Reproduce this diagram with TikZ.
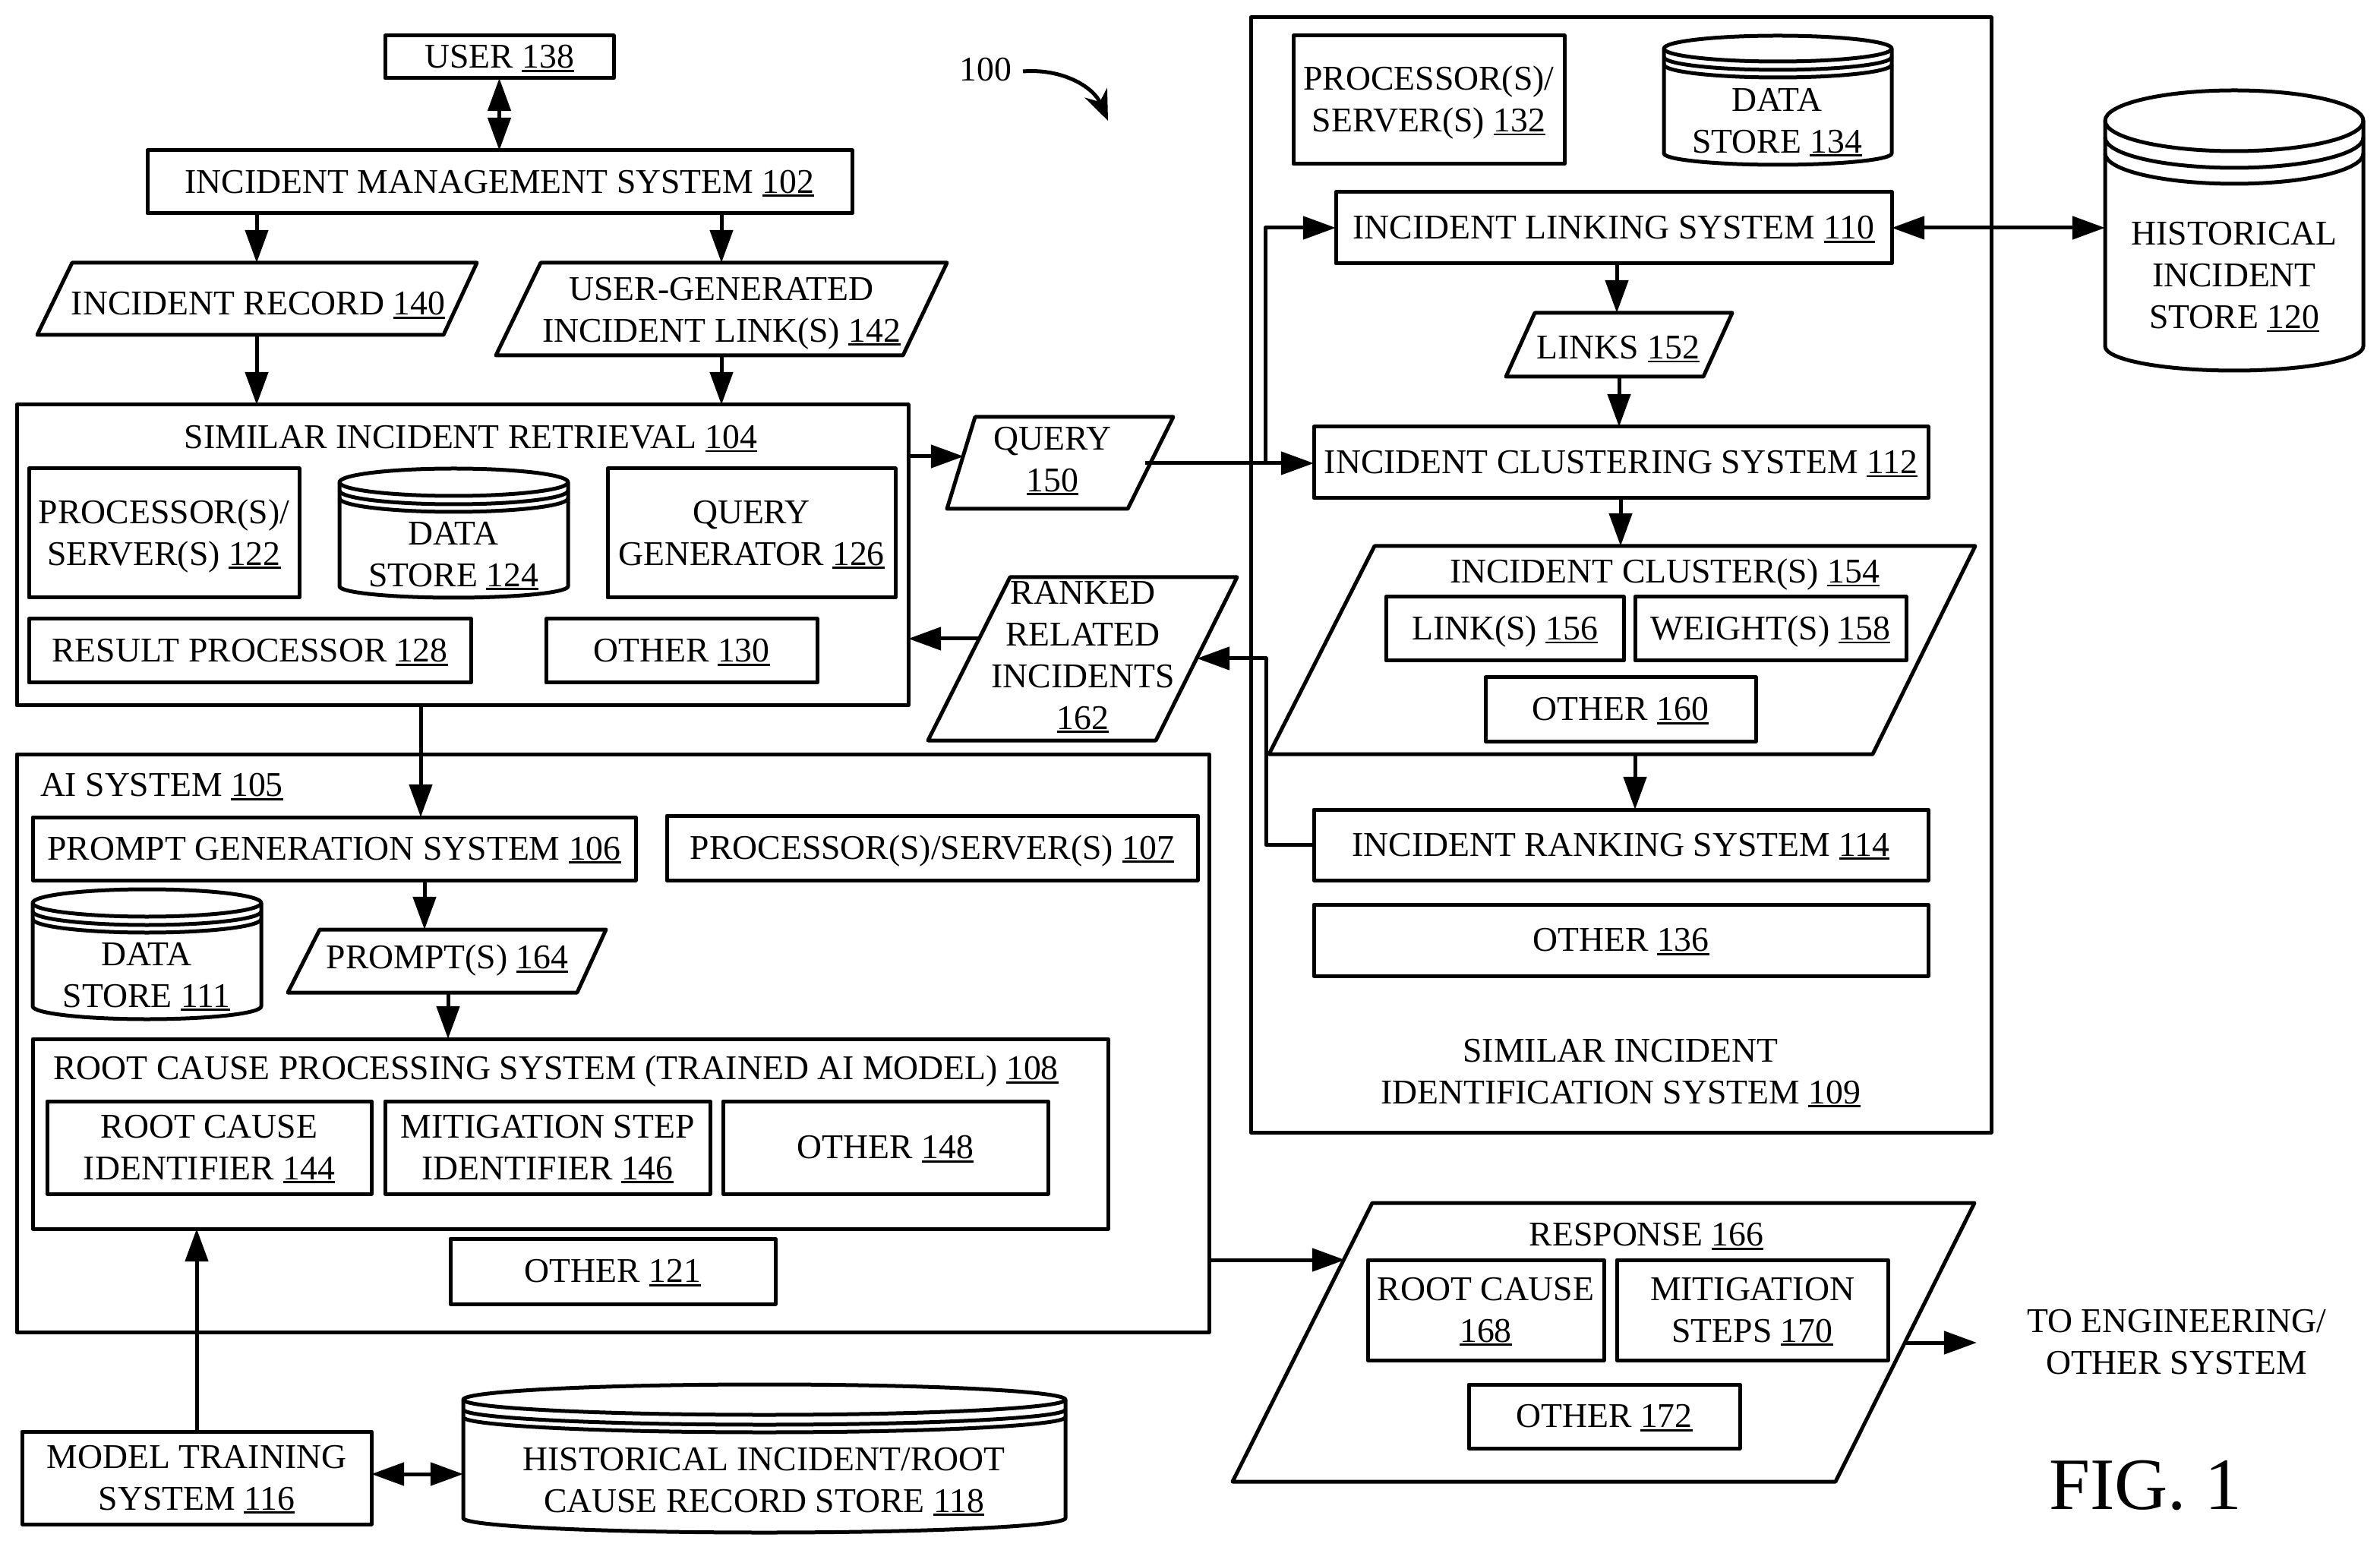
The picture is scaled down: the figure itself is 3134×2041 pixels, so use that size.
\documentclass[tikz,border=0pt]{standalone}
\usepackage{fontspec}
\setmainfont{Liberation Serif}
\usetikzlibrary{arrows.meta}
\newsavebox{\unbox}
\newcommand{\un}[1]{\sbox{\unbox}{#1}\smash{\rlap{\rule[-1.15pt]{\wd\unbox}{0.7pt}}}\usebox{\unbox}}
\newcommand{\pS}[1]{\raisebox{0pt}[0.66em][0pt]{#1}}
\tikzset{
 lbl/.style={align=center,inner sep=0pt,outer sep=0pt,font=\fontsize{11.42pt}{13.75pt}\selectfont},
 boxn/.style={lbl,draw,line width=1.25pt,line join=round},
 ghost/.style={inner sep=0pt,outer sep=0pt},
 shp/.style={draw,line width=1.25pt,line join=round},
 arr/.style={line width=1.25pt,line join=round,-{Triangle[length=10.8pt,width=7.5pt]}},
 darr/.style={line width=1.25pt,{Triangle[length=10.8pt,width=7.5pt]}-{Triangle[length=10.8pt,width=7.5pt]}},
}
\newcommand{\bx}[6]{%
 \pgfmathsetmacro\cxx{(#2+#4)/2}\pgfmathsetmacro\cyy{(#3+#5)/2}%
 \pgfmathsetmacro\wdd{(#4-#2)*0.25}\pgfmathsetmacro\htt{(#5-#3)*0.25}%
 \node[boxn,minimum width=\wdd pt,minimum height=\htt pt] (#1) at (\cxx,\cyy) {#6};}
% name, top-left x, top-right x, top y, bottom-left x, bottom-right x, bottom y
\newcommand{\pg}[7]{%
 \draw[shp] (#2,#4) -- (#3,#4) -- (#6,#7) -- (#5,#7) -- cycle;
 \pgfmathsetmacro\cxx{(#5+#3)/2}\pgfmathsetmacro\cyy{(#4+#7)/2}%
 \pgfmathsetmacro\wdd{(#3-#5)*0.25}\pgfmathsetmacro\htt{(#7-#4)*0.25}%
 \node[ghost,minimum width=\wdd pt,minimum height=\htt pt] (#1) at (\cxx,\cyy) {};}
% x1,y1,x2,y2,ry,d1,d2,ry2
\newcommand{\cyl}[8]{%
 \pgfmathsetmacro\rxx{(#3-#1)*0.125}\pgfmathsetmacro\ryy{#5*0.25}\pgfmathsetmacro\ryb{#8*0.25}%
 \pgfmathsetmacro\ya{#2+#5}\pgfmathsetmacro\yb{#4-#8}%
 \pgfmathsetmacro\yc{#2+#5+#6}\pgfmathsetmacro\yd{#2+#5+#7}%
 \draw[shp] (#1,\ya) arc[start angle=180,end angle=0,x radius=\rxx pt,y radius=\ryy pt]
   -- (#3,\yb) arc[start angle=0,end angle=-180,x radius=\rxx pt,y radius=\ryb pt] -- cycle;
 \draw[shp] (#1,\ya) arc[start angle=180,end angle=360,x radius=\rxx pt,y radius=\ryy pt];
 \draw[shp] (#1,\yc) arc[start angle=180,end angle=360,x radius=\rxx pt,y radius=\ryy pt];
 \draw[shp] (#1,\yd) arc[start angle=180,end angle=360,x radius=\rxx pt,y radius=\ryy pt];}
\begin{document}
\begin{tikzpicture}[x=0.25pt,y=-0.25pt]
\useasboundingbox (0,0) rectangle (3134,2041);
\fill[white] (0,0) rectangle (3134,2041);

% top-left column
\bx{user}{507}{47}{808}{103}{USER \un{138}}
\bx{ims}{194}{198}{1122}{281}{INCIDENT MANAGEMENT SYSTEM \un{102}}
\pg{rec}{95}{628}{346}{49}{584}{441}
\node[lbl] (recT) at (340,400) {INCIDENT RECORD \un{140}};
\pg{ug}{712}{1247}{346}{653}{1189}{468}
\node[lbl] (ugT) at (950,408) {USER-GENERATED\\INCIDENT LINK\pS{(S)} \un{142}};

% similar incident retrieval
\bx{sir}{22}{533}{1196}{929}{}
\node[lbl] (sirT) at (620,576) {SIMILAR INCIDENT RETRIEVAL \un{104}};
\bx{p122}{38}{617}{394}{787}{PROCESSOR\pS{(S)/}\\SERVER\pS{(S)} \un{122}}
\cyl{447}{617}{748}{787}{18}{11}{21}{15}
\node[lbl] (d124) at (597,730) {DATA\\STORE \un{124}};
\bx{q126}{800}{617}{1179}{787}{QUERY\\GENERATOR \un{126}}
\bx{r128}{38}{815}{620}{899}{RESULT PROCESSOR \un{128}}
\bx{o130}{719}{815}{1076}{899}{OTHER \un{130}}

\pg{query}{1284}{1545}{549}{1247}{1485}{670}
\node[lbl] (queryT) at (1386,605) {QUERY\\\un{150}};
\pg{ranked}{1330}{1629}{760}{1222}{1522}{975}
\node[lbl] (rankedT) at (1426,863) {RANKED\\RELATED\\INCIDENTS\\\un{162}};

% similar incident identification system
\bx{siis}{1647}{23}{2622}{1491}{}
\bx{p132}{1703}{47}{2060}{216}{PROCESSOR\pS{(S)/}\\SERVER\pS{(S)} \un{132}}
\cyl{2191}{47}{2491}{217}{17}{11}{21}{15}
\node[lbl] (d134) at (2340,159) {DATA\\STORE \un{134}};
\bx{link}{1759}{253}{2491}{347}{INCIDENT LINKING SYSTEM \un{110}}
\pg{links}{2021}{2281}{412}{1983}{2243}{496}
\node[lbl] (linksT) at (2131,458) {LINKS \un{152}};
\bx{clus}{1730}{562}{2539}{656}{INCIDENT CLUSTERING SYSTEM \un{112}}
\pg{cc}{1810}{2601}{719}{1671}{2466}{993}
\node[lbl] (ccT) at (2192,753) {INCIDENT CLUSTER\pS{(S)} \un{154}};
\bx{l156}{1825}{786}{2138}{870}{LINK\pS{(S)} \un{156}}
\bx{w158}{2153}{786}{2510}{870}{WEIGHT\pS{(S)} \un{158}}
\bx{o160}{1956}{892}{2312}{976}{OTHER \un{160}}
\bx{rank}{1730}{1066}{2539}{1159}{INCIDENT RANKING SYSTEM \un{114}}
\bx{o136}{1730}{1191}{2539}{1285}{OTHER \un{136}}
\node[lbl] (siisT) at (2134,1411) {SIMILAR INCIDENT\\IDENTIFICATION SYSTEM \un{109}};

% historical store
\cyl{2772}{119}{3112}{488}{40}{22}{43}{32}
\node[lbl,minimum width=85pt] (hist) at (2942,363) {HISTORICAL\\INCIDENT\\STORE \un{120}};

% AI system
\bx{ai}{22}{993}{1592}{1754}{}
\node[lbl,anchor=west] (aiT) at (53,1034) {AI SYSTEM \un{105}};
\bx{pg106}{43}{1076}{837}{1159}{PROMPT GENERATION SYSTEM \un{106}}
\bx{p107}{878}{1074}{1577}{1159}{PROCESSOR\pS{(S)/}SERVER\pS{(S)} \un{107}}
\cyl{43}{1171}{344}{1342}{18}{11}{21}{17}
\node[lbl] (d111) at (193,1284) {DATA\\STORE \un{111}};
\pg{prm}{421}{798}{1224}{379}{760}{1307}
\node[lbl] (prmT) at (589,1261) {PROMPT\pS{(S)} \un{164}};
\bx{root}{43}{1368}{1459}{1618}{}
\node[lbl] (rootT) at (732,1407) {ROOT CAUSE PROCESSING SYSTEM \pS{(TRAINED AI MODEL)} \un{108}};
\bx{i144}{62}{1450}{489}{1572}{ROOT CAUSE\\IDENTIFIER \un{144}}
\bx{i146}{507}{1450}{935}{1572}{MITIGATION STEP\\IDENTIFIER \un{146}}
\bx{o148}{952}{1450}{1380}{1572}{OTHER \un{148}}
\bx{o121}{593}{1631}{1021}{1717}{OTHER \un{121}}

% bottom-left
\bx{model}{29}{1885}{489}{2007}{MODEL TRAINING\\SYSTEM \un{116}}
\cyl{610}{1823}{1403}{2018}{20}{13}{23}{19}
\node[lbl,minimum width=198pt] (store) at (1006,1949) {HISTORICAL INCIDENT\pS{/}ROOT\\CAUSE RECORD STORE \un{118}};

% response
\pg{resp}{1807}{2600}{1584}{1623}{2417}{1951}
\node[lbl] (respT) at (2168,1626) {RESPONSE \un{166}};
\bx{r168}{1801}{1659}{2112}{1791}{ROOT CAUSE\\\un{168}}
\bx{m170}{2129}{1659}{2486}{1791}{MITIGATION\\STEPS \un{170}}
\bx{o172}{1934}{1823}{2291}{1907}{OTHER \un{172}}
\node[lbl] (eng) at (2866,1767) {TO ENGINEERING/\\OTHER SYSTEM};
\node[lbl,font=\fontsize{24.3pt}{28pt}\selectfont] (fig) at (2825,1956) {FIG. 1};
\node[lbl] (t100) at (1298,92) {100};

% helper columns and rows for connectors
\coordinate (c338) at (338,0);
\coordinate (c950) at (950,0);
\coordinate (c554) at (554,0);
\coordinate (c559) at (559,0);
\coordinate (c590) at (590,0);
\coordinate (c259) at (259,0);
\coordinate (c2129) at (2129,0);
\coordinate (c2132) at (2132,0);
\coordinate (c2134) at (2134,0);
\coordinate (c2153) at (2153,0);
\coordinate (c1666) at (1666,0);
\coordinate (c1667) at (1667,0);
\coordinate (qIn) at (1269,601);
\coordinate (qOut) at (1508,610);
\coordinate (rkL) at (1288,841);
\coordinate (rkR) at (1576,867);
\coordinate (rsL) at (1771,1659);
\coordinate (rsR) at (2510,1768);
\coordinate (toEng) at (2603,1768);
\coordinate (b100) at (1347,94);
\coordinate (e100) at (1459,159);

% connectors
\draw[darr] (user.south) -- (ims.north -| user.south);
\draw[arr] (ims.south -| c338) -- (rec.north -| c338);
\draw[arr] (ims.south -| c950) -- (ug.north -| c950);
\draw[arr] (rec.south -| c338) -- (sir.north -| c338);
\draw[arr] (ug.south -| c950) -- (sir.north -| c950);
\draw[arr] (qIn -| sir.east) -- (qIn);
\draw[arr] (qOut) -- (qOut -| clus.west);
\draw[arr] (qOut -| c1666) -- (link.west -| c1666) -- (link.west);
\draw[arr] (rkL) -- (rkL -| sir.east);
\draw[arr] (rank.west) -- (rank.west -| c1667) -- (rkR -| c1667) -- (rkR);
\draw[darr] (link.east) -- (link.east -| hist.west);
\draw[arr] (link.south -| c2129) -- (links.north -| c2129);
\draw[arr] (links.south -| c2132) -- (clus.north -| c2132);
\draw[arr] (clus.south -| c2134) -- (cc.north -| c2134);
\draw[arr] (cc.south -| c2153) -- (rank.north -| c2153);
\draw[arr] (sir.south -| c554) -- (pg106.north -| c554);
\draw[arr] (pg106.south -| c559) -- (prm.north -| c559);
\draw[arr] (prm.south -| c590) -- (root.north -| c590);
\draw[arr] (model.north -| c259) -- (root.south -| c259);
\draw[darr] (model.east |- 0,1941) -- (store.west |- 0,1941);
\draw[arr] (rsL -| ai.east) -- (rsL);
\draw[arr] (rsR) -- (toEng);
\draw[line width=1.25pt,-{Stealth[length=10pt,width=8pt]}] (b100) .. controls (1400,90) and (1440,115) .. (e100);
\end{tikzpicture}
\end{document}
